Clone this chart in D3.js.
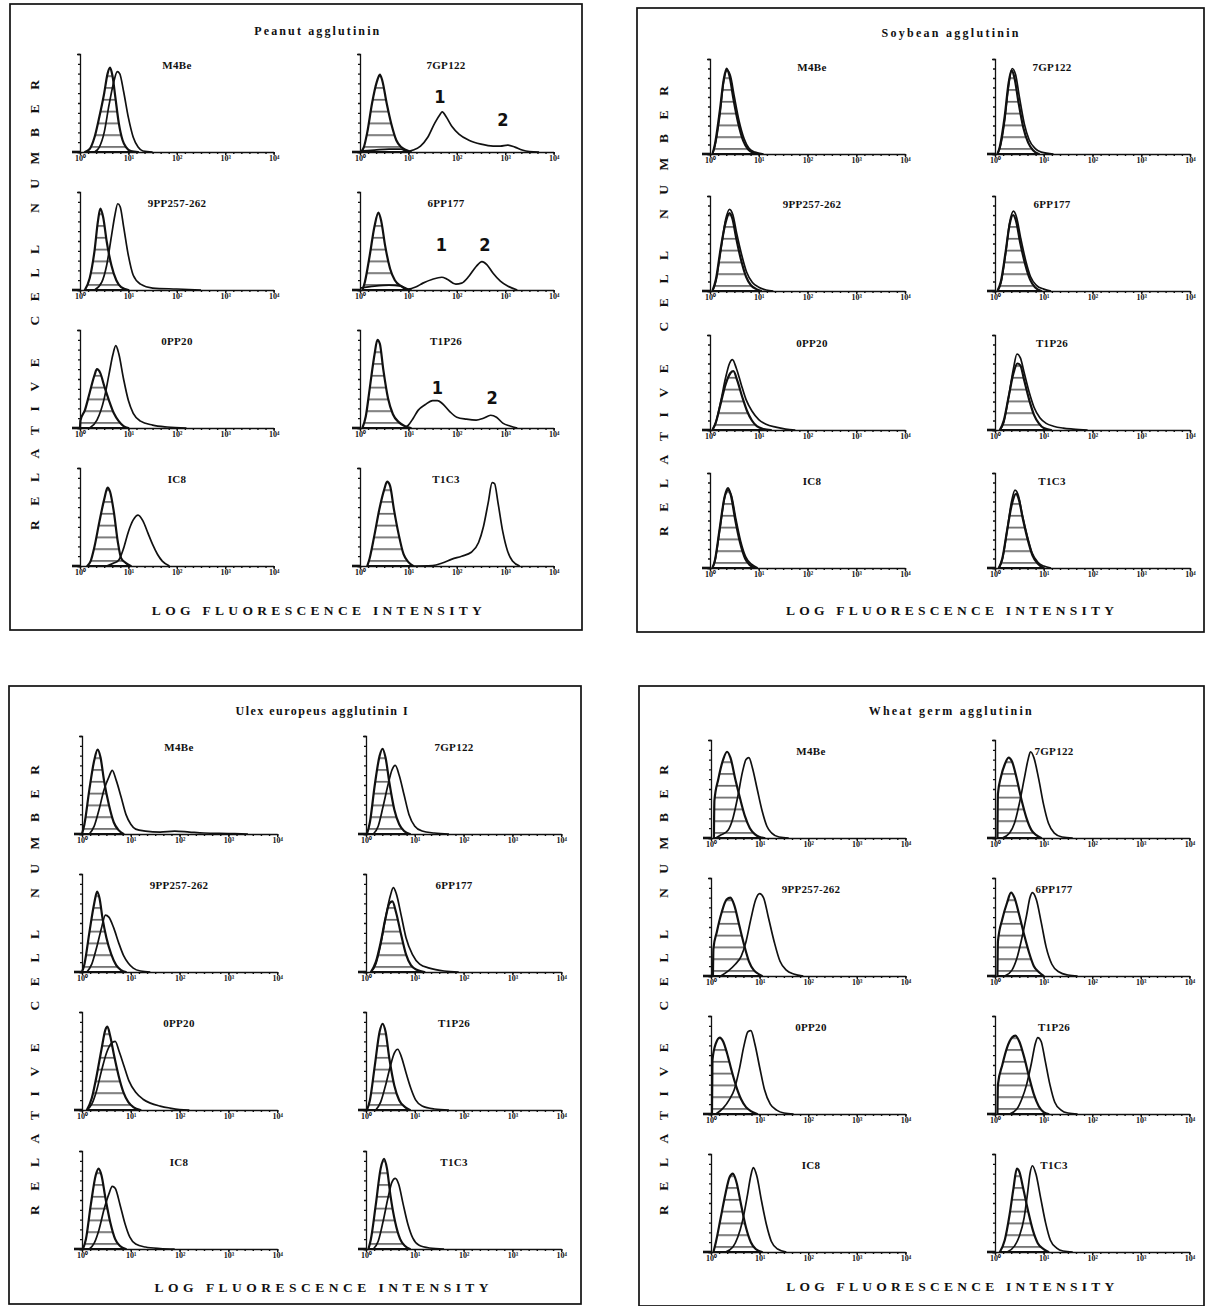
<!DOCTYPE html>
<html>
<head>
<meta charset="utf-8">
<script src="https://cdn.jsdelivr.net/npm/d3@7"></script>
<style>
  body { margin: 0; background: #fff; }
  svg { display: block; }
</style>
</head>
<body>
<svg id="chart" width="1206" height="1306"></svg>
<script>
// ---- data ----
// each curve: [log10 fluorescence (decades), relative cell number (0-100)]
const panelTitles = ["Peanut agglutinin", "Soybean agglutinin", "Ulex europeus agglutinin I", "Wheat germ agglutinin"];
const cellLines = ["M4Be", "7GP122", "9PP257-262", "6PP177", "0PP20", "T1P26", "IC8", "T1C3"];
const tickLabels = ["10\u2070", "10\u00b9", "10\u00b2", "10\u00b3", "10\u2074"];
const xAxisTitle = "LOG FLUORESCENCE INTENSITY";
const yAxisTitle = "RELATIVE CELL NUMBER";

const peanutControl = [
  [[0.1,0],[0.2,3],[0.3,15],[0.4,36],[0.5,60],[0.57,80],[0.62,86],[0.67,78],[0.73,56],[0.8,30],[0.88,12],[0.95,5],[1.05,1],[1.2,0]],
  [[0.02,0],[0.08,5],[0.15,20],[0.25,50],[0.35,72],[0.41,79],[0.46,73],[0.55,50],[0.65,28],[0.75,12],[0.85,5],[0.95,2],[1.05,0]],
  [[0.1,0],[0.2,12],[0.3,40],[0.37,70],[0.42,83],[0.48,74],[0.55,50],[0.65,25],[0.75,10],[0.85,3],[1.0,0]],
  [[0.05,0],[0.1,8],[0.2,35],[0.3,65],[0.38,79],[0.44,70],[0.52,45],[0.62,22],[0.72,10],[0.85,4],[0.95,1],[1.05,0]],
  [[0.0,0],[0.01,8],[0.1,18],[0.2,36],[0.3,54],[0.35,60],[0.42,56],[0.5,43],[0.6,28],[0.7,15],[0.8,7],[0.9,2],[1.0,0]],
  [[0.05,0],[0.12,12],[0.2,40],[0.3,75],[0.36,90],[0.41,86],[0.48,60],[0.58,30],[0.68,14],[0.8,6],[0.92,2],[1.05,0]],
  [[0.15,0],[0.22,5],[0.3,20],[0.4,45],[0.5,68],[0.57,80],[0.62,76],[0.7,55],[0.78,25],[0.85,8],[0.95,3],[1.05,0]],
  [[0.15,0],[0.2,8],[0.3,32],[0.4,58],[0.5,78],[0.56,86],[0.62,82],[0.7,58],[0.8,32],[0.9,12],[1.0,4],[1.1,0]]
];
const peanutLectin = [
  [[0.3,0],[0.4,5],[0.5,20],[0.6,48],[0.7,72],[0.77,82],[0.82,80],[0.9,62],[1.0,35],[1.1,15],[1.2,5],[1.3,1],[1.5,0]],
  [[0,1],[0.3,2],[0.6,3],[0.85,3],[0.97,0.5],[1.1,2],[1.25,6],[1.4,15],[1.55,30],[1.65,38],[1.7,41],[1.78,36],[1.9,26],[2.05,18],[2.25,12],[2.5,8],[2.75,6],[2.9,6],[3.05,7],[3.2,5],[3.35,2],[3.5,0.5],[3.7,0]],
  [[0.3,0],[0.45,8],[0.55,25],[0.65,55],[0.72,76],[0.78,88],[0.83,85],[0.9,65],[1.0,35],[1.1,15],[1.25,6],[1.5,2],[2.0,1],[2.5,0]],
  [[0,2],[0.3,4],[0.6,5],[0.85,4],[1.0,1],[1.15,3],[1.3,7],[1.5,11],[1.69,13],[1.8,11],[1.98,6],[2.1,7],[2.25,14],[2.4,24],[2.52,29],[2.62,26],[2.75,17],[2.9,9],[3.05,4],[3.25,0]],
  [[0.2,0],[0.35,8],[0.5,30],[0.6,55],[0.68,75],[0.74,84],[0.8,76],[0.9,50],[1.0,28],[1.1,15],[1.25,7],[1.5,3],[1.8,1],[2.2,0]],
  [[0.9,0],[1.0,3],[1.1,10],[1.2,18],[1.35,24],[1.5,28],[1.6,28],[1.7,25],[1.85,17],[2.0,11],[2.2,9],[2.4,8],[2.55,10],[2.7,13],[2.82,11],[2.95,5],[3.1,2],[3.25,0]],
  [[0.55,0],[0.7,3],[0.8,6],[0.9,18],[1.0,35],[1.1,47],[1.2,52],[1.3,46],[1.4,34],[1.5,22],[1.6,12],[1.7,5],[1.85,0]],
  [[1.0,0],[1.5,0.5],[1.7,3],[1.9,7],[2.1,10],[2.3,14],[2.45,24],[2.55,40],[2.65,65],[2.73,85],[2.78,84],[2.85,65],[2.95,35],[3.05,15],[3.15,5],[3.3,0]]
];

const soybeanControl = [
  [[0.05,0],[0.1,10],[0.2,45],[0.28,78],[0.34,90],[0.4,82],[0.48,58],[0.58,32],[0.68,14],[0.78,5],[0.9,1],[1.0,0]],
  [[0.05,0],[0.1,8],[0.2,40],[0.28,75],[0.34,88],[0.4,80],[0.48,55],[0.58,28],[0.68,12],[0.78,4],[0.9,0]],
  [[0.05,0],[0.12,12],[0.22,45],[0.32,72],[0.4,82],[0.46,76],[0.54,55],[0.64,32],[0.74,15],[0.84,6],[0.95,2],[1.05,0]],
  [[0.05,0],[0.12,10],[0.22,42],[0.3,70],[0.37,80],[0.43,74],[0.52,50],[0.62,28],[0.72,12],[0.82,4],[0.95,0]],
  [[0.05,0],[0.12,8],[0.22,28],[0.32,48],[0.42,60],[0.48,62],[0.56,52],[0.66,35],[0.76,20],[0.86,10],[0.96,4],[1.1,1],[1.25,0]],
  [[0.1,0],[0.18,10],[0.28,35],[0.38,60],[0.46,70],[0.52,68],[0.6,52],[0.7,32],[0.8,16],[0.9,7],[1.0,2],[1.15,0]],
  [[0.05,0],[0.1,8],[0.2,42],[0.3,75],[0.37,84],[0.43,76],[0.52,50],[0.62,26],[0.72,10],[0.82,3],[0.92,0]],
  [[0.08,0],[0.15,10],[0.25,40],[0.35,68],[0.43,78],[0.49,72],[0.57,52],[0.67,30],[0.77,13],[0.87,5],[1.0,0]]
];
const soybeanLectin = [
  [[0.05,0],[0.1,8],[0.2,40],[0.28,76],[0.35,88],[0.42,82],[0.5,60],[0.6,34],[0.7,16],[0.8,6],[0.92,2],[1.1,0]],
  [[0.05,0],[0.1,6],[0.2,36],[0.28,72],[0.35,90],[0.42,84],[0.5,60],[0.6,32],[0.7,15],[0.82,6],[0.95,2],[1.2,0]],
  [[0.05,0],[0.12,10],[0.22,42],[0.32,75],[0.4,86],[0.47,80],[0.55,60],[0.65,38],[0.75,20],[0.87,9],[1.0,4],[1.15,1],[1.3,0]],
  [[0.05,0],[0.12,8],[0.22,40],[0.3,72],[0.38,84],[0.44,78],[0.53,55],[0.63,32],[0.73,15],[0.85,6],[1.0,2],[1.15,0]],
  [[0.05,0],[0.12,8],[0.22,30],[0.32,55],[0.4,70],[0.46,74],[0.54,65],[0.64,48],[0.74,32],[0.86,20],[1.0,11],[1.15,6],[1.35,3],[1.55,1],[1.75,0]],
  [[0.1,0],[0.18,8],[0.28,35],[0.38,65],[0.45,80],[0.52,76],[0.6,60],[0.7,40],[0.8,24],[0.92,13],[1.05,7],[1.2,4],[1.4,2],[1.6,1],[1.9,0]],
  [[0.05,0],[0.1,7],[0.2,40],[0.3,74],[0.37,82],[0.44,76],[0.53,52],[0.63,28],[0.73,12],[0.85,4],[0.98,0]],
  [[0.08,0],[0.15,9],[0.25,40],[0.34,70],[0.41,82],[0.48,76],[0.56,56],[0.66,34],[0.76,16],[0.88,6],[1.0,2],[1.15,0]]
];

const ulexControl = [
  [[0.0,0],[0.05,10],[0.15,45],[0.25,75],[0.32,86],[0.38,78],[0.45,55],[0.55,30],[0.65,12],[0.75,4],[0.85,0]],
  [[0.02,0],[0.08,12],[0.18,50],[0.28,80],[0.34,87],[0.4,78],[0.48,52],[0.58,25],[0.68,10],[0.78,3],[0.9,0]],
  [[0.0,0],[0.05,8],[0.15,40],[0.25,70],[0.31,82],[0.36,75],[0.42,55],[0.5,35],[0.6,18],[0.7,7],[0.8,2],[0.9,0]],
  [[0.1,0],[0.2,10],[0.3,30],[0.4,55],[0.48,70],[0.54,72],[0.62,60],[0.72,38],[0.82,18],[0.92,7],[1.05,2],[1.2,0]],
  [[0.1,0],[0.2,12],[0.3,35],[0.4,62],[0.48,82],[0.52,85],[0.58,75],[0.66,55],[0.75,35],[0.85,18],[0.95,8],[1.05,3],[1.2,0]],
  [[0.02,0],[0.08,10],[0.18,45],[0.28,80],[0.34,88],[0.4,80],[0.48,52],[0.58,25],[0.68,10],[0.8,3],[0.9,0]],
  [[0.02,0],[0.08,10],[0.18,45],[0.28,75],[0.34,82],[0.4,75],[0.48,52],[0.58,27],[0.68,10],[0.78,3],[0.9,0]],
  [[0.05,0],[0.1,10],[0.2,45],[0.3,82],[0.37,92],[0.43,82],[0.5,55],[0.6,27],[0.7,10],[0.8,3],[0.9,0]]
];
const ulexLectin = [
  [[0.15,0],[0.25,8],[0.35,25],[0.45,45],[0.55,58],[0.62,65],[0.7,55],[0.8,38],[0.9,20],[1.0,10],[1.1,5],[1.3,3],[1.6,2],[1.9,3],[2.2,2],[2.5,1],[3.0,0.5],[3.4,0]],
  [[0.15,0],[0.25,8],[0.35,28],[0.45,50],[0.53,65],[0.6,70],[0.68,60],[0.78,40],[0.88,20],[1.0,8],[1.15,3],[1.4,1],[1.7,0]],
  [[0.1,0],[0.2,8],[0.3,25],[0.4,45],[0.48,58],[0.55,56],[0.65,45],[0.75,30],[0.85,17],[0.95,9],[1.05,4],[1.2,1],[1.4,0]],
  [[0.1,0],[0.2,8],[0.3,28],[0.4,55],[0.5,78],[0.56,86],[0.62,80],[0.72,58],[0.82,35],[0.95,18],[1.1,8],[1.3,4],[1.6,1],[1.9,0]],
  [[0.1,0],[0.2,6],[0.3,20],[0.4,40],[0.5,58],[0.6,68],[0.68,70],[0.76,60],[0.86,45],[0.96,30],[1.1,18],[1.25,11],[1.4,7],[1.6,4],[1.8,2],[2.0,0.5],[2.2,0]],
  [[0.2,0],[0.3,8],[0.4,25],[0.5,45],[0.58,58],[0.65,62],[0.72,55],[0.82,38],[0.92,22],[1.02,10],[1.15,4],[1.4,1],[1.7,0]],
  [[0.15,0],[0.25,6],[0.35,20],[0.45,40],[0.55,56],[0.62,64],[0.68,62],[0.78,45],[0.88,26],[0.98,12],[1.1,5],[1.3,2],[1.6,0.5],[1.9,0]],
  [[0.15,0],[0.25,8],[0.35,28],[0.45,52],[0.53,68],[0.6,72],[0.67,66],[0.76,46],[0.86,25],[0.96,11],[1.08,4],[1.3,1],[1.6,0]]
];

const wheatControl = [
  [[0.06,0],[0.07,38],[0.15,60],[0.25,80],[0.33,88],[0.4,82],[0.5,60],[0.6,40],[0.7,22],[0.8,10],[0.9,4],[1.0,1],[1.1,0]],
  [[0.05,0],[0.06,45],[0.12,62],[0.2,75],[0.28,82],[0.35,78],[0.45,60],[0.55,38],[0.65,20],[0.75,8],[0.85,3],[0.95,0]],
  [[0.04,0],[0.05,28],[0.12,45],[0.22,65],[0.32,78],[0.4,80],[0.48,72],[0.58,52],[0.68,32],[0.78,15],[0.88,6],[0.98,2],[1.05,0]],
  [[0.05,0],[0.06,35],[0.15,58],[0.25,75],[0.33,85],[0.4,80],[0.5,62],[0.6,42],[0.7,24],[0.8,10],[0.9,4],[1.0,0]],
  [[0.02,0],[0.03,55],[0.1,72],[0.18,78],[0.25,74],[0.33,62],[0.42,45],[0.52,28],[0.62,15],[0.72,7],[0.82,3],[0.95,0]],
  [[0.05,0],[0.06,30],[0.15,50],[0.25,68],[0.35,78],[0.42,80],[0.5,74],[0.6,58],[0.7,38],[0.8,20],[0.9,8],[1.0,2],[1.1,0]],
  [[0.05,0],[0.1,10],[0.2,35],[0.3,60],[0.38,76],[0.45,80],[0.52,72],[0.62,48],[0.72,25],[0.82,10],[0.92,3],[1.05,0]],
  [[0.1,0],[0.2,12],[0.3,38],[0.38,65],[0.45,85],[0.5,82],[0.58,65],[0.68,42],[0.78,22],[0.88,9],[1.0,3],[1.1,0]]
];
const wheatLectin = [
  [[0.1,0],[0.2,3],[0.35,8],[0.45,20],[0.55,42],[0.65,68],[0.72,80],[0.78,82],[0.85,72],[0.95,50],[1.05,28],[1.15,12],[1.25,5],[1.4,1],[1.6,0]],
  [[0.15,0],[0.3,5],[0.4,15],[0.5,35],[0.6,60],[0.68,80],[0.73,88],[0.8,82],[0.9,60],[1.0,34],[1.1,15],[1.22,5],[1.38,1],[1.6,0]],
  [[0.2,0],[0.35,5],[0.5,12],[0.62,20],[0.72,35],[0.82,58],[0.92,78],[1.0,84],[1.08,80],[1.18,60],[1.3,35],[1.42,15],[1.55,6],[1.7,2],[1.9,0]],
  [[0.2,0],[0.35,6],[0.45,18],[0.55,38],[0.65,62],[0.72,80],[0.77,85],[0.85,78],[0.95,55],[1.05,30],[1.17,12],[1.32,4],[1.5,1],[1.7,0]],
  [[0.1,0],[0.25,6],[0.38,15],[0.48,25],[0.58,45],[0.68,70],[0.76,84],[0.82,85],[0.9,72],[1.0,48],[1.1,25],[1.22,10],[1.35,4],[1.5,1],[1.7,0]],
  [[0.3,0],[0.45,5],[0.55,15],[0.65,30],[0.75,52],[0.83,72],[0.88,78],[0.95,74],[1.03,55],[1.13,30],[1.23,12],[1.36,4],[1.5,1],[1.7,0]],
  [[0.3,0],[0.45,5],[0.55,15],[0.65,32],[0.75,58],[0.82,78],[0.87,86],[0.94,78],[1.04,52],[1.14,28],[1.24,11],[1.37,3],[1.55,0]],
  [[0.25,0],[0.4,6],[0.5,16],[0.6,35],[0.67,60],[0.72,80],[0.77,88],[0.84,80],[0.94,55],[1.04,30],[1.14,12],[1.27,4],[1.4,1],[1.6,0]]
];

// numbered sub-populations marked on the peanut panel: [cell line index, log10 value, height, label]
const peakMarks = [
  [1, 1.65, 50, "1"], [1, 2.95, 27, "2"],
  [3, 1.68, 40, "1"], [3, 2.58, 40, "2"],
  [5, 1.60, 35, "1"], [5, 2.73, 24, "2"]
];

// ---- layout ----
const layout = [
  {box: [10, 4, 582, 630], colX: [80, 360], dec: 48.4, rows: [152, 290, 428, 566], h: 98,
   titleY: 35, titleW: 125, xlabY: 615, xlabW: 330, ylabX: 39, ylabC: 305, labDx: [97, 86],
   control: peanutControl, lectin: peanutLectin, marks: peakMarks},
  {box: [637, 8, 1204, 632], colX: [710, 995], dec: 48.75, rows: [154, 291, 430, 568], h: 95,
   titleY: 37, titleW: 137, xlabY: 615, xlabW: 328, ylabX: 668, ylabC: 311, labDx: [102, 57],
   control: soybeanControl, lectin: soybeanLectin, marks: []},
  {box: [9, 686, 581, 1304], colX: [82, 366], dec: 48.8, rows: [834, 972, 1110, 1249], h: 98,
   titleY: 715, titleW: 172, xlabY: 1292, xlabW: 334, ylabX: 39, ylabC: 990, labDx: [97, 88],
   control: ulexControl, lectin: ulexLectin, marks: []},
  {box: [639, 686, 1204, 1306], colX: [711, 995], dec: 48.6, rows: [838, 976, 1114, 1252], h: 98,
   titleY: 715, titleW: 163, xlabY: 1291, xlabW: 328, ylabX: 668, ylabC: 990, labDx: [100, 59],
   control: wheatControl, lectin: wheatLectin, marks: []}
];

const serif = "'Liberation Serif', 'Times New Roman', serif";
const ink = "#111";

const svg = d3.select("#chart");

// horizontal hatching used for the control (unstained) histograms
const defs = svg.append("defs");
const hatch = defs.append("pattern")
  .attr("id", "hatch")
  .attr("patternUnits", "userSpaceOnUse")
  .attr("width", 10)
  .attr("height", 11.8);
hatch.append("line")
  .attr("x1", 0).attr("x2", 10)
  .attr("y1", 6.8).attr("y2", 6.8)
  .attr("stroke", ink)
  .attr("stroke-width", 1.1);

const minorTicks = d3.range(0, 4.001, 1 / 6);

layout.forEach((p, pi) => {
  const g = svg.append("g");

  // frame
  g.append("rect")
    .attr("x", p.box[0]).attr("y", p.box[1])
    .attr("width", p.box[2] - p.box[0])
    .attr("height", p.box[3] - p.box[1])
    .attr("fill", "none")
    .attr("stroke", ink)
    .attr("stroke-width", 1.7);

  const left = p.colX[0];
  const right = p.colX[1] + 4 * p.dec;
  const cx = (left + right) / 2;

  // title
  g.append("text")
    .attr("x", cx).attr("y", p.titleY)
    .attr("text-anchor", "middle")
    .attr("textLength", p.titleW)
    .attr("lengthAdjust", "spacing")
    .style("font-family", serif).style("font-weight", "bold")
    .style("font-size", "12px").style("fill", ink)
    .text(panelTitles[pi]);

  // x axis title
  g.append("text")
    .attr("x", cx).attr("y", p.xlabY)
    .attr("text-anchor", "middle")
    .attr("textLength", p.xlabW)
    .attr("lengthAdjust", "spacing")
    .style("font-family", serif).style("font-weight", "bold")
    .style("font-size", "13.5px").style("fill", ink)
    .text(xAxisTitle);

  // y axis title, reads bottom to top
  g.append("text")
    .attr("transform", `translate(${p.ylabX},${p.ylabC}) rotate(-90)`)
    .attr("text-anchor", "middle")
    .attr("textLength", 450)
    .attr("lengthAdjust", "spacing")
    .style("font-family", serif).style("font-weight", "bold")
    .style("font-size", "13.5px").style("fill", ink)
    .text(yAxisTitle);

  const x = d3.scaleLinear().domain([0, 4]).range([0, 4 * p.dec]);
  const y = d3.scaleLinear().domain([0, 100]).range([0, -p.h]);

  const area = d3.area()
    .x(d => x(d[0]))
    .y0(0)
    .y1(d => y(d[1]))
    .curve(d3.curveMonotoneX);
  const line = d3.line()
    .x(d => x(d[0]))
    .y(d => y(d[1]))
    .curve(d3.curveMonotoneX);

  cellLines.forEach((name, i) => {
    const col = i % 2;
    const row = Math.floor(i / 2);
    const sg = g.append("g")
      .attr("transform", `translate(${p.colX[col]},${p.rows[row]})`);

    // control histogram, hatched
    sg.append("path")
      .datum(p.control[i])
      .attr("d", area)
      .attr("fill", "url(#hatch)")
      .attr("stroke", ink)
      .attr("stroke-width", 2.2)
      .attr("stroke-linejoin", "round");

    // lectin-stained histogram, open
    sg.append("path")
      .datum(p.lectin[i])
      .attr("d", line)
      .attr("fill", "none")
      .attr("stroke", ink)
      .attr("stroke-width", 1.7)
      .attr("stroke-linejoin", "round");

    // y axis
    sg.append("g")
      .call(d3.axisLeft(y).tickValues(d3.range(0, 101, 10)).tickSize(2).tickSizeOuter(3).tickFormat(""))
      .call(a => a.selectAll("path, line").attr("stroke", ink).attr("stroke-width", 1.3));

    // x axis, small dotted ticks plus labelled decades
    sg.append("line")
      .attr("x1", -8).attr("x2", 0)
      .attr("stroke", ink).attr("stroke-width", 2.6);
    sg.append("g")
      .call(d3.axisBottom(x).tickValues(minorTicks).tickSize(2).tickSizeOuter(0).tickFormat(""))
      .call(a => a.selectAll("path, line").attr("stroke", ink).attr("stroke-width", 1.4));
    sg.append("g")
      .call(d3.axisBottom(x).tickValues([0, 1, 2, 3, 4]).tickSize(3).tickSizeOuter(0)
        .tickFormat((d, k) => tickLabels[k]))
      .call(a => a.select(".domain").remove())
      .call(a => a.selectAll("line").attr("stroke", ink).attr("stroke-width", 1.4))
      .call(a => a.selectAll("text")
        .attr("y", 3)
        .style("font-family", serif).style("font-weight", "bold")
        .style("font-size", "8px").style("fill", ink));

    // cell line name
    sg.append("text")
      .attr("x", p.labDx[col]).attr("y", -83)
      .attr("text-anchor", "middle")
      .style("font-family", serif).style("font-weight", "bold")
      .style("font-size", "11px").style("letter-spacing", "0.3px").style("fill", ink)
      .text(name);

    // numbered peaks
    p.marks.filter(m => m[0] === i).forEach(m => {
      sg.append("text")
        .attr("x", x(m[1])).attr("y", y(m[2]))
        .attr("text-anchor", "middle")
        .style("font-family", "'Liberation Sans Narrow', 'DejaVu Sans Condensed', 'Liberation Sans', sans-serif")
        .style("font-weight", "bold")
        .style("font-size", "18px").style("fill", ink)
        .text(m[3]);
    });
  });
});
</script>
</body>
</html>
